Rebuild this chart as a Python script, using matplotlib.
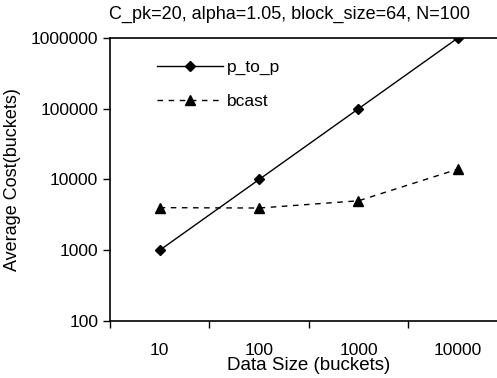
import numpy as np
import matplotlib.pyplot as plt
from matplotlib.ticker import FixedLocator, NullFormatter, NullLocator

plt.rcParams['font.family'] = ['Liberation Sans', 'DejaVu Sans']

# data
sizes = ['10', '100', '1000', '10000']
p_to_p = [1000, 10000, 100000, 1000000]
bcast = [4000, 3950, 5000, 14000]

fig = plt.figure(figsize=(4.97, 3.78), dpi=100)
ax = fig.add_axes([0.2213, 0.1508, 0.80, 0.7487])

x = np.arange(len(sizes))
ax.plot(x, p_to_p, color='black', lw=1.0, marker='D', markersize=5.5, label='p_to_p')
ax.plot(x, bcast, color='black', lw=1.0, ls=(0, (4, 4)), marker='^', markersize=6.5, label='bcast')

ax.set_yscale('log')
ax.set_ylim(100, 1000000)
ax.set_xlim(-0.5, 3.5)
ax.yaxis.set_major_locator(FixedLocator([100, 1000, 10000, 100000, 1000000]))
ax.yaxis.set_minor_locator(NullLocator())
ax.set_yticklabels(['100', '1000', '10000', '100000', '1000000'])

# category axis: ticks on the boundaries, labels in the middle
ax.xaxis.set_major_locator(FixedLocator([-0.5, 0.5, 1.5, 2.5, 3.5]))
ax.xaxis.set_major_formatter(NullFormatter())
ax.xaxis.set_minor_locator(FixedLocator(x))
ax.set_xticklabels(sizes, minor=True)
ax.tick_params(axis='x', which='major', direction='out', length=5, width=1)
ax.tick_params(axis='x', which='minor', length=0, pad=16, labelsize=12.5)
ax.tick_params(axis='y', direction='out', length=5, width=1, labelsize=12.5)

ax.spines['right'].set_visible(False)
for s in ['left', 'bottom', 'top']:
    ax.spines[s].set_linewidth(1.2)

ax.set_xlabel('Data Size (buckets)', fontsize=13.5, labelpad=-1)
ax.set_ylabel('Average Cost(buckets)', fontsize=13, labelpad=7)
fig.text(0.582, 0.962, 'C_pk=20, alpha=1.05, block_size=64, N=100', fontsize=13,
         ha='center', va='center')

ax.legend(loc='upper left', bbox_to_anchor=(0.08, 0.978), frameon=False,
          fontsize=12.5, handlelength=3.8, labelspacing=1.1, handletextpad=0.2)

fig.savefig('out.png', dpi=100)
